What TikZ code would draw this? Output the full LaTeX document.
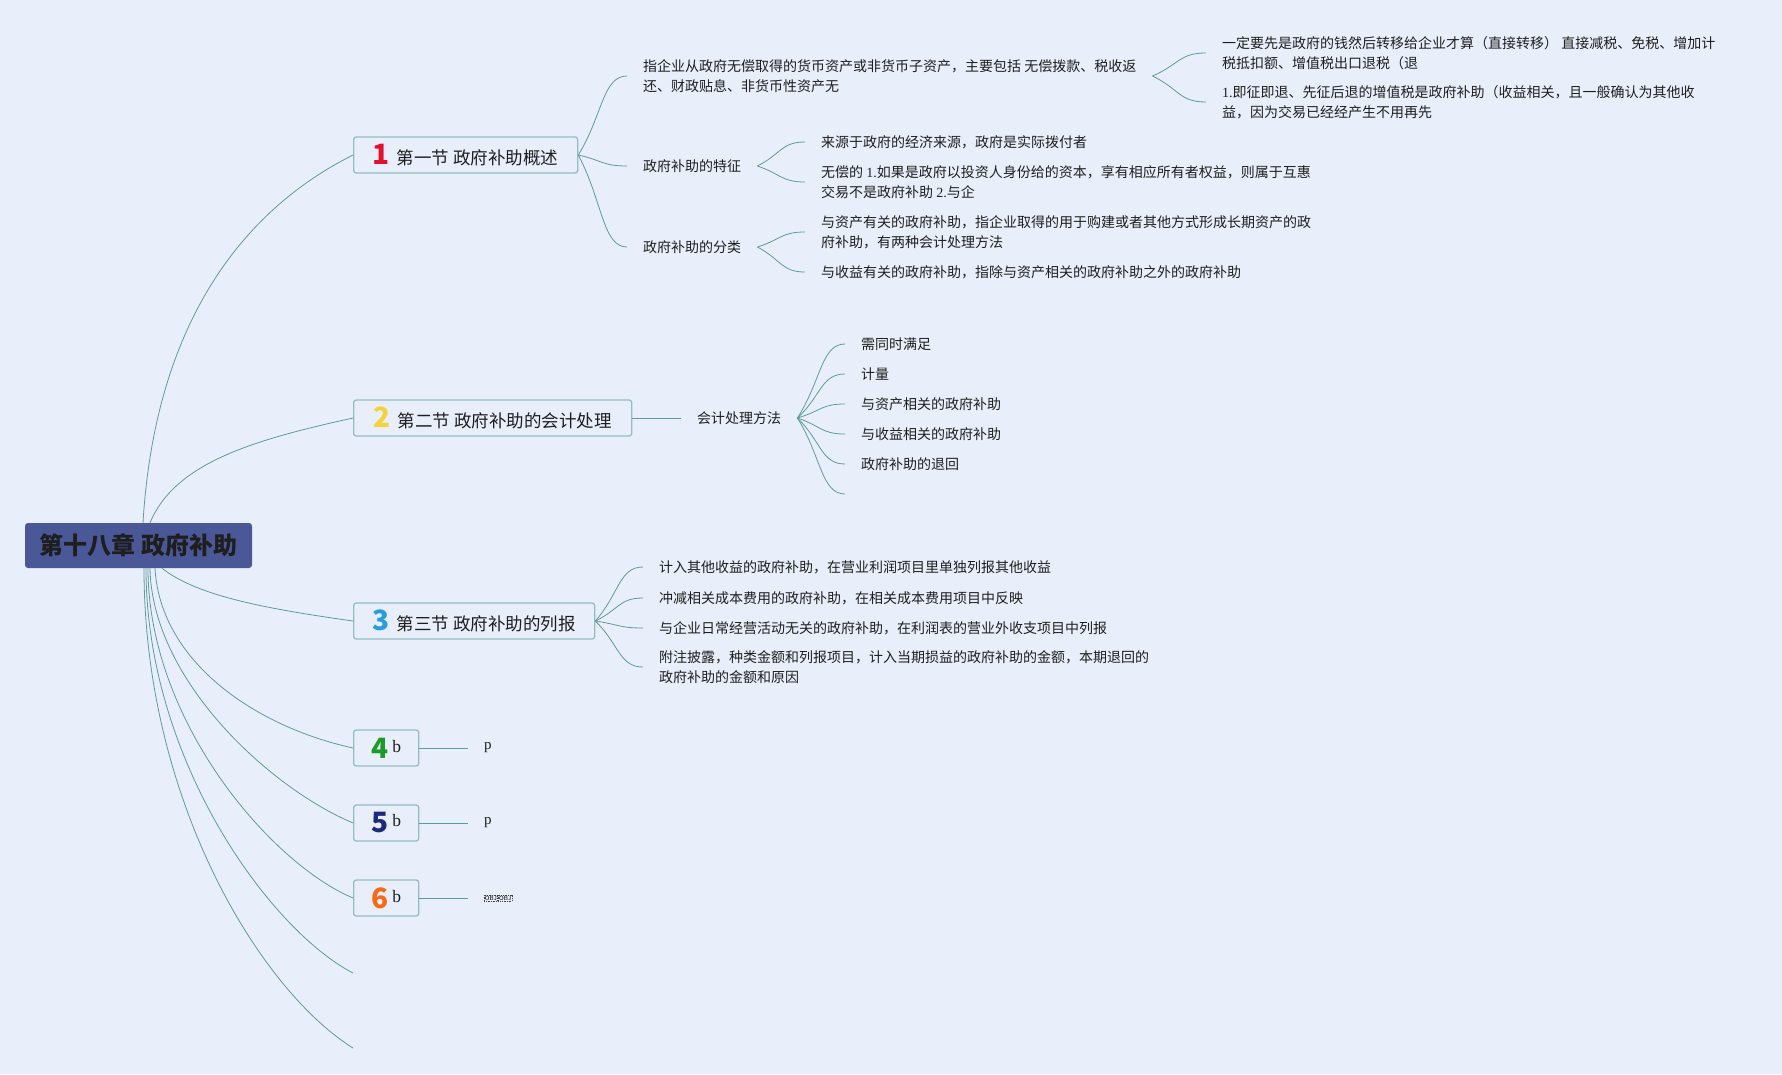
\documentclass[tikz,border=0pt]{standalone}
\usepackage{fontspec}
\setmainfont{Liberation Serif}
\newfontfamily\cjk{Noto Sans CJK SC}
\usetikzlibrary{calc,positioning}

\definecolor{paper}{HTML}{E8EFFB}
\definecolor{rootfill}{HTML}{4A5898}
\definecolor{boxline}{HTML}{93BDBF}
\definecolor{linecol}{HTML}{5E9B99}
\definecolor{inkcol}{HTML}{1E1E1E}
\definecolor{nred}{HTML}{E1122E}
\definecolor{nyellow}{HTML}{F6D23A}
\definecolor{nblue}{HTML}{2A9DDF}
\definecolor{ngreen}{HTML}{1C9A2A}
\definecolor{nnavy}{HTML}{1B2A7C}
\definecolor{norange}{HTML}{F56A12}

\newcommand{\secnum}[2]{{\cjk\bfseries\fontsize{28}{28}\selectfont\color{#1}#2}}
\newcommand{\latn}[1]{{\rmfamily #1}}

\begin{document}
\begin{tikzpicture}[x=1pt,y=-1pt]

	\tikzstyle{root}=[rectangle,fill=rootfill,rounded corners=3pt,
		minimum width=227pt,minimum height=45pt,inner sep=0pt,
		font=\cjk\bfseries\fontsize{24}{27}\selectfont,text=inkcol]
	\tikzstyle{section}=[rectangle,draw=boxline,fill=paper,line width=1.3pt,
		rounded corners=2.5pt,minimum height=36pt,inner sep=0pt,anchor=west,
		font=\cjk\fontsize{17.5}{20}\selectfont,text=inkcol]
	\tikzstyle{leaf}=[anchor=west,inner xsep=16pt,inner ysep=2pt,align=left,
		font=\cjk\fontsize{14}{20}\selectfont,text=inkcol]
	\tikzstyle{tip}=[leaf,font=\rmfamily\fontsize{15}{15}\selectfont]
	\tikzstyle{objbox}=[draw=black!75,dash pattern=on 1pt off 0.7pt,
		line width=0.4pt,inner sep=0.7pt,font=\sffamily\fontsize{6}{6}\selectfont]
	\tikzstyle{link}=[draw=linecol,line width=0.8pt]
	\tikzstyle{twig}=[link,to path={let \p1=(\tikztostart),\p2=(\tikztotarget) in
		.. controls ($(\p1)!0.5!(\p2)$) and ({(\x1+\x2)/2},\y2) .. (\tikztotarget)}]

	\fill[paper] (0,0) rectangle (1782,1074);
	\useasboundingbox (0,0) rectangle (1782,1074);

	\node[root]	(root)	at (138.5,545.5)	{第十八章 政府补助};

	\node[section,minimum width=224pt]	(s1)	at (353,155)	{\secnum{nred}{1}\hspace{7pt}第一节 政府补助概述};
	\node[section,minimum width=278pt]	(s2)	at (353,418)	{\secnum{nyellow}{2}\hspace{7pt}第二节 政府补助的会计处理};
	\node[section,minimum width=241pt]	(s3)	at (353,621)	{\secnum{nblue}{3}\hspace{7pt}第三节 政府补助的列报};
	\node[section,minimum width=65pt]	(s4)	at (353,748)	{\secnum{ngreen}{4}\hspace{4pt}\raisebox{6pt}{\rmfamily b}};
	\node[section,minimum width=65pt]	(s5)	at (353,823)	{\secnum{nnavy}{5}\hspace{4pt}\raisebox{6pt}{\rmfamily b}};
	\node[section,minimum width=65pt]	(s6)	at (353,898)	{\secnum{norange}{6}\hspace{4pt}\raisebox{6pt}{\rmfamily b}};

	% section 1
	\node[leaf]	(d1)	at (627,76)	{指企业从政府无偿取得的货币资产或非货币子资产，主要包括 无偿拨款、税收返\\还、财政贴息、非货币性资产无};
	\node[leaf]	(d2)	at (627,166)	{政府补助的特征};
	\node[leaf]	(d3)	at (627,247)	{政府补助的分类};
	\node[leaf]	(e1)	at (1206,53)	{一定要先是政府的钱然后转移给企业才算（直接转移） 直接减税、免税、增加计\\税抵扣额、增值税出口退税（退};
	\node[leaf]	(e2)	at (1206,102)	{\latn{1.}即征即退、先征后退的增值税是政府补助（收益相关，且一般确认为其他收\\益，因为交易已经经产生不用再先};
	\node[leaf]	(f1)	at (805,142)	{来源于政府的经济来源，政府是实际拨付者};
	\node[leaf]	(f2)	at (805,182)	{无偿的 \latn{1.}如果是政府以投资人身份给的资本，享有相应所有者权益，则属于互惠\\交易不是政府补助 \latn{2.}与企};
	\node[leaf]	(g1)	at (805,232)	{与资产有关的政府补助，指企业取得的用于购建或者其他方式形成长期资产的政\\府补助，有两种会计处理方法};
	\node[leaf]	(g2)	at (805,272)	{与收益有关的政府补助，指除与资产相关的政府补助之外的政府补助};

	% section 2
	\node[leaf]	(m)	at (681,418)	{会计处理方法};
	\node[leaf]	(h1)	at (845,344)	{需同时满足};
	\node[leaf]	(h2)	at (845,374)	{计量};
	\node[leaf]	(h3)	at (845,404)	{与资产相关的政府补助};
	\node[leaf]	(h4)	at (845,434)	{与收益相关的政府补助};
	\node[leaf]	(h5)	at (845,464)	{政府补助的退回};
	\coordinate	(h6)	at (845,494);

	% section 3
	\node[leaf]	(k1)	at (643,567)	{计入其他收益的政府补助，在营业利润项目里单独列报其他收益};
	\node[leaf]	(k2)	at (643,598)	{冲减相关成本费用的政府补助，在相关成本费用项目中反映};
	\node[leaf]	(k3)	at (643,628)	{与企业日常经营活动无关的政府补助，在利润表的营业外收支项目中列报};
	\node[leaf]	(k4)	at (643,667)	{附注披露，种类金额和列报项目，计入当期损益的政府补助的金额，本期退回的\\政府补助的金额和原因};

	% sections 4-6
	\node[tip]	(p4)	at (468,748)	{p};
	\node[tip]	(p5)	at (468,823)	{p};
	\coordinate	(t6)	at (468,898);
	\node[objbox,right=16pt of t6]	(o1)	{OBJ};
	\node[objbox,right=0.5pt of o1]	(o2)	{OBJ};
	\coordinate	(e7)	at (353,973);
	\coordinate	(e8)	at (353,1048);

	\draw[link]	([xshift=4.5pt]root.north)	.. controls +(12,-200) and +(-110,55) ..	(s1.west);
	\draw[link]	([xshift=11.5pt]root.north)	.. controls +(25,-60) and +(-100,22) ..	(s2.west);
	\draw[link]	([xshift=23.5pt]root.south)	.. controls +(35,28) and +(-85,-12) ..	(s3.west);
	\draw[link]	([xshift=16.5pt]root.south)	.. controls +(5,92) and +(-100,-22) ..	(s4.west);
	\draw[link]	([xshift=11.5pt]root.south)	.. controls +(2,112) and +(-83,-35) ..	(s5.west);
	\draw[link]	([xshift=9.5pt]root.south)	.. controls +(0,152) and +(-83,-35) ..	(s6.west);
	\draw[link]	([xshift=7.5pt]root.south)	.. controls +(0,192) and +(-83,-43) ..	(e7);
	\draw[link]	([xshift=5.5pt]root.south)	.. controls +(0,232) and +(-93,-58) ..	(e8);

	\draw[twig]	(s1.east)	to	(d1.west);
	\draw[twig]	(s1.east)	to	(d2.west);
	\draw[twig]	(s1.east)	to	(d3.west);
	\draw[twig]	(d1.east)	to	(e1.west);
	\draw[twig]	(d1.east)	to	(e2.west);
	\draw[twig]	(d2.east)	to	(f1.west);
	\draw[twig]	(d2.east)	to	(f2.west);
	\draw[twig]	(d3.east)	to	(g1.west);
	\draw[twig]	(d3.east)	to	(g2.west);

	\draw[link]	(s2.east)	--	(m.west);
	\foreach \i in {1,...,5}
		\draw[twig]	(m.east)	to	(h\i.west);
	\draw[twig]	(m.east)	to	(h6);

	\draw[twig]	(s3.east)	to	(k1.west);
	\draw[twig]	(s3.east)	to	(k2.west);
	\draw[twig]	(s3.east)	to	(k3.west);
	\draw[twig]	(s3.east)	to	(k4.west);

	\draw[link]	(s4.east)	--	(p4.west);
	\draw[link]	(s5.east)	--	(p5.west);
	\draw[link]	(s6.east)	--	(t6);

\end{tikzpicture}
\end{document}
